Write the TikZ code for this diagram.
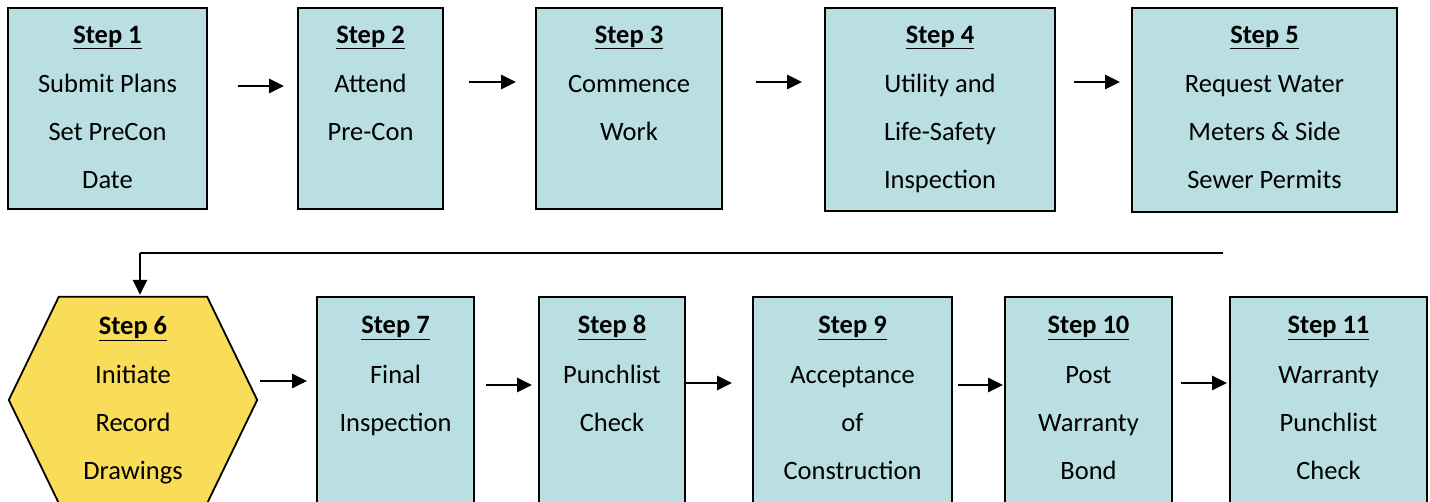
\documentclass[tikz,border=0pt]{standalone}
\usepackage{fontspec}
\setmainfont{Carlito}
\usetikzlibrary{arrows.meta,calc}
\definecolor{boxblue}{HTML}{B9DFE2}
\definecolor{hexyellow}{HTML}{F9DC58}
\tikzset{
  stepbox/.style={draw=black, line width=1.8pt, fill=boxblue, inner sep=0pt, rectangle},
  hexbox/.style={draw=none, inner sep=0pt, rectangle, minimum width=248pt, minimum height=206pt},
  steptext/.style={anchor=base, inner sep=0pt, font=\fontsize{26.5}{48}\selectfont, text=black},
  arr/.style={line width=2.8pt, -{Triangle[length=15pt,width=14pt]}},
}
\newcommand{\steplabel}[2]{\begin{tabular}[t]{@{}c@{}}\underline{\textbf{Step #1}}\\[1.5pt]#2\end{tabular}}
\begin{document}
\begin{tikzpicture}[x=1pt,y=-1pt]
\useasboundingbox (0,0) rectangle (1430,502);
\clip (0,0) rectangle (1430,502);
% row 1 boxes
\node[stepbox, minimum width=199pt, minimum height=201pt] (s1) at (107.5,108.5) {};
\node[stepbox, minimum width=145pt, minimum height=201pt] (s2) at (370.5,108.5) {};
\node[stepbox, minimum width=186pt, minimum height=201pt] (s3) at (629,108.5) {};
\node[stepbox, minimum width=230pt, minimum height=203pt] (s4) at (940,109.5) {};
\node[stepbox, minimum width=265pt, minimum height=204pt] (s5) at (1264.5,110) {};
% row 2
\node[hexbox] (s6) at (133,400) {};
\draw[line width=1.8pt, fill=hexyellow] (s6.west) -- ($(s6.north west)+(50,0)$) -- ($(s6.north east)+(-50,0)$) -- (s6.east) -- ($(s6.south east)+(-50,0)$) -- ($(s6.south west)+(50,0)$) -- cycle;
\node[stepbox, minimum width=157pt, minimum height=213pt] (s7) at (395.5,403.5) {};
\node[stepbox, minimum width=146pt, minimum height=213pt] (s8) at (612,403.5) {};
\node[stepbox, minimum width=199pt, minimum height=213pt] (s9) at (852.5,403.5) {};
\node[stepbox, minimum width=167pt, minimum height=213pt] (s10) at (1088.5,403.5) {};
\node[stepbox, minimum width=197pt, minimum height=213pt] (s11) at (1328.5,403.5) {};
% texts
\node[steptext] (t1) at ($(s1.north)+(0,36)$) {\steplabel{1}{Submit Plans\\Set PreCon\\Date}};
\node[steptext] (t2) at ($(s2.north)+(0,36)$) {\steplabel{2}{Attend\\Pre-Con}};
\node[steptext] (t3) at ($(s3.north)+(0,36)$) {\steplabel{3}{Commence\\Work}};
\node[steptext] (t4) at ($(s4.north)+(0,36)$) {\steplabel{4}{Utility and\\Life-Safety\\Inspection}};
\node[steptext] (t5) at ($(s5.north)+(0,36)$) {\steplabel{5}{Request Water\\Meters \& Side\\Sewer Permits}};
\node[steptext] (t6) at ($(s6.north)+(0,37.5)$) {\steplabel{6}{Initiate\\Record\\Drawings}};
\node[steptext] (t7) at ($(s7.north)+(0,37.5)$) {\steplabel{7}{Final\\Inspection}};
\node[steptext] (t8) at ($(s8.north)+(0,37.5)$) {\steplabel{8}{Punchlist\\Check}};
\node[steptext] (t9) at ($(s9.north)+(0,37.5)$) {\steplabel{9}{Acceptance\\of\\Construction}};
\node[steptext] (t10) at ($(s10.north)+(0,37.5)$) {\steplabel{10}{Post\\Warranty\\Bond}};
\node[steptext] (t11) at ($(s11.north)+(0,37.5)$) {\steplabel{11}{Warranty\\Punchlist\\Check}};
% arrows row 1
\draw[arr] ($(s1.east)+(30,-22.5)$) -- ($(s2.west)+(-13,-22.5)$);
\draw[arr] ($(s2.east)+(25,-26.5)$) -- ($(s3.west)+(-19,-26.5)$);
\draw[arr] ($(s3.east)+(33,-26.5)$) -- ($(s4.west)+(-22,-27.5)$);
\draw[arr] ($(s4.east)+(18,-27.5)$) -- ($(s5.west)+(-11,-28)$);
% long connector
\coordinate (c5) at (1223,253);
\draw[line width=2.8pt] (c5) -- (140,253);
\draw[arr] (140,253) -- ($(s6.north)+(7,-2)$);
% arrows row 2
\draw[arr] ($(s6.east)+(3,-19)$) -- ($(s7.west)+(-9,-22.5)$);
\draw[arr] ($(s7.east)+(11,-18.5)$) -- ($(s8.west)+(-6,-18.5)$);
\draw[arr] (s8.east |- 0,383) -- ($(s9.west)+(-20,-20.5)$);
\draw[arr] ($(s9.east)+(5,-18.5)$) -- ($(s10.west)+(-1,-18.5)$);
\draw[arr] ($(s10.east)+(8,-20.5)$) -- ($(s11.west)+(-2,-20.5)$);
\end{tikzpicture}
\end{document}
